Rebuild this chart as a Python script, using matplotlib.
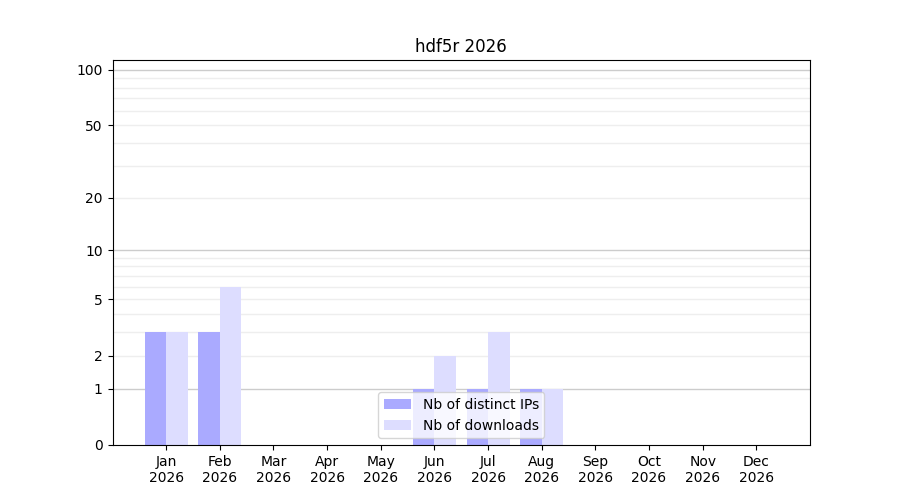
import numpy as np
import matplotlib.pyplot as plt

months = ['Jan', 'Feb', 'Mar', 'Apr', 'May', 'Jun',
          'Jul', 'Aug', 'Sep', 'Oct', 'Nov', 'Dec']
year = 2026
distinct_ips = [3, 3, 0, 0, 0, 1, 1, 1, 0, 0, 0, 0]
downloads = [3, 6, 0, 0, 0, 2, 3, 1, 0, 0, 0, 0]
y_ticks = [0, 1, 2, 5, 10, 20, 50, 100]


def forward(y):
    return np.log10(1 + np.clip(y, -0.999, None))


def inverse(y):
    return 10 ** y - 1


fig, ax = plt.subplots(figsize=(9, 5), dpi=100)
ax.set_yscale('function', functions=(forward, inverse))

xs = np.arange(len(months))
width = 0.4
ax.bar(xs - width / 2, distinct_ips, width, color='#aaaaff', label='Nb of distinct IPs', zorder=2)
ax.bar(xs + width / 2, downloads, width, color='#ddddff', label='Nb of downloads', zorder=2)

# grid: major at decades, minor in between
for v in [1, 10, 100]:
    ax.axhline(v, color='#cccccc', linewidth=1, zorder=1)
for v in list(range(2, 10)) + list(range(20, 100, 10)):
    ax.axhline(v, color='#eeeeee', linewidth=1, zorder=1)

ax.set_ylim(0, 113)
ax.set_xlim(-1, 12)
ax.set_yticks(y_ticks)
ax.set_yticklabels([str(t) for t in y_ticks])
ax.yaxis.set_minor_locator(plt.NullLocator())
ax.set_xticks(xs)
ax.set_xticklabels([f"{m}\n{year}" for m in months])
ax.set_title(f"hdf5r {year}")
ax.legend(loc='lower center')

fig.savefig('out.png')
